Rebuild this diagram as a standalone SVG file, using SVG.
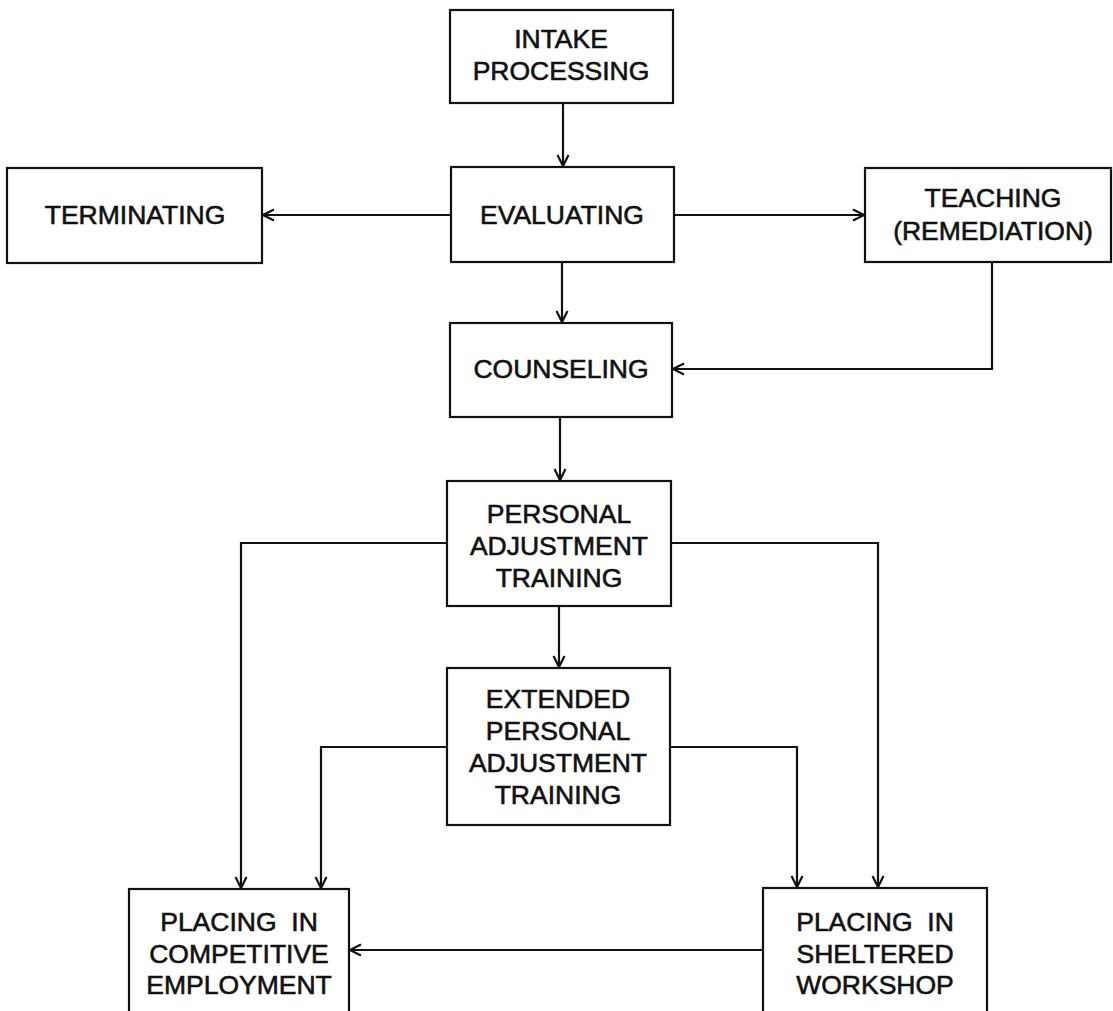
<svg xmlns="http://www.w3.org/2000/svg" width="1113" height="1011" viewBox="0 0 1113 1011">
<style>
.box{fill:#fff;stroke:#111;stroke-width:2.2}
.lbl{font-family:"Liberation Sans",Arial,sans-serif;font-size:26.5px;fill:#111;text-anchor:middle;stroke:#111;stroke-width:0.6;white-space:pre}
.con{fill:none;stroke:#111;stroke-width:2.2;marker-end:url(#arr)}
</style>
<defs>
<marker id="arr" markerUnits="userSpaceOnUse" markerWidth="16" markerHeight="14" refX="13" refY="7" orient="auto">
<path d="M2,1.5 L13,7 L2,12.5" fill="none" stroke="#111" stroke-width="2.2"/>
</marker>
</defs>
<rect width="1113" height="1011" fill="#fff"/>
<g id="connectors">
<path class="con" d="M563,103 L563,166"/>
<path class="con" d="M451,215 L263,215"/>
<path class="con" d="M674,215 L864,215"/>
<path class="con" d="M562,262 L562,322"/>
<path class="con" d="M992,262 L992,369 L673,369"/>
<path class="con" d="M560,417 L560,480"/>
<path class="con" d="M559,606 L559,667"/>
<path class="con" d="M447,543 L241,543 L241,888"/>
<path class="con" d="M671,543 L878,543 L878,887"/>
<path class="con" d="M447,747 L321,747 L321,888"/>
<path class="con" d="M670,747 L797,747 L797,887"/>
<path class="con" d="M763,950 L350,950"/>
</g>
<g id="intake"><rect class="box" x="450" y="10" width="223" height="93"/>
<text class="lbl" x="561" y="48">INTAKE</text><text class="lbl" x="561" y="80">PROCESSING</text></g>
<g id="terminating"><rect class="box" x="7" y="168" width="255" height="95"/>
<text class="lbl" x="135" y="224">TERMINATING</text></g>
<g id="evaluating"><rect class="box" x="451" y="167" width="223" height="95"/>
<text class="lbl" x="562" y="224">EVALUATING</text></g>
<g id="teaching"><rect class="box" x="865" y="168" width="246" height="94"/>
<text class="lbl" x="993" y="207">TEACHING</text><text class="lbl" x="993" y="240">(REMEDIATION)</text></g>
<g id="counseling"><rect class="box" x="450" y="323" width="222" height="94"/>
<text class="lbl" x="561" y="378">COUNSELING</text></g>
<g id="pat"><rect class="box" x="447" y="481" width="224" height="125"/>
<text class="lbl" x="559" y="523">PERSONAL</text><text class="lbl" x="559" y="555">ADJUSTMENT</text><text class="lbl" x="559" y="587">TRAINING</text></g>
<g id="extended"><rect class="box" x="447" y="668" width="223" height="157"/>
<text class="lbl" x="558" y="708">EXTENDED</text><text class="lbl" x="558" y="740">PERSONAL</text><text class="lbl" x="558" y="772">ADJUSTMENT</text><text class="lbl" x="558" y="804">TRAINING</text></g>
<g id="competitive"><rect class="box" x="129" y="889" width="220" height="140"/>
<text class="lbl" x="239" y="931">PLACING  IN</text><text class="lbl" x="239" y="963">COMPETITIVE</text><text class="lbl" x="239" y="994">EMPLOYMENT</text></g>
<g id="sheltered"><rect class="box" x="763" y="888" width="224" height="140"/>
<text class="lbl" x="875" y="931">PLACING  IN</text><text class="lbl" x="875" y="963">SHELTERED</text><text class="lbl" x="875" y="994">WORKSHOP</text></g>
</svg>
